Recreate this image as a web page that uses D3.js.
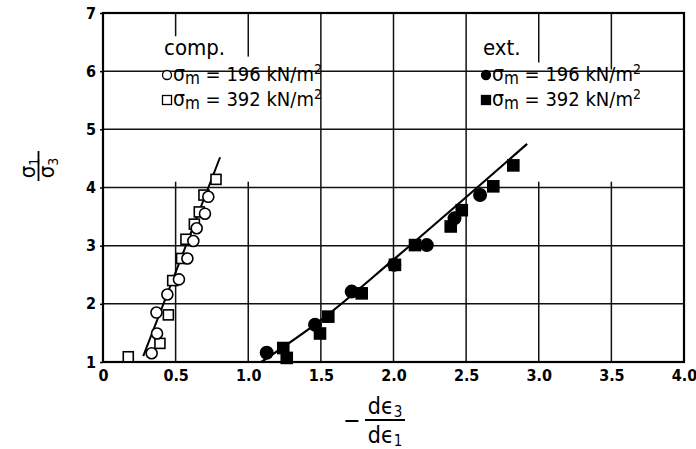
<!DOCTYPE html>
<html><head><meta charset="utf-8">
<script src="https://cdn.jsdelivr.net/npm/d3@7"></script>
<style>body{margin:0;background:#fff} svg{display:block}</style>
</head><body><svg id="c" width="696" height="449"></svg>
<script>
// ---- data ----
const xTicks = [0, 0.5, 1, 1.5, 2, 2.5, 3, 3.5, 4];
const xTickLabels = ["0", "0.5", "1.0", "1.5", "2.0", "2.5", "3.0", "3.5", "4.0"];
const yTicks = [1, 2, 3, 4, 5, 6, 7];
const yTickLabels = ["1", "2", "3", "4", "5", "6", "7"];

const compCircles = [[0.335,1.15],[0.372,1.49],[0.368,1.85],[0.443,2.16],[0.523,2.42],[0.581,2.78],[0.622,3.08],[0.645,3.30],[0.702,3.55],[0.725,3.84]];
const compSquares = [[0.174,1.09],[0.392,1.32],[0.45,1.81],[0.48,2.40],[0.541,2.78],[0.571,3.11],[0.629,3.37],[0.663,3.58],[0.695,3.87],[0.778,4.14]];
const extCircles  = [[1.127,1.16],[1.46,1.64],[1.712,2.21],[2.005,2.67],[2.229,3.01],[2.42,3.47],[2.596,3.87]];
const extSquares  = [[1.241,1.24],[1.265,1.07],[1.494,1.49],[1.551,1.78],[1.781,2.18],[2.01,2.67],[2.148,3.01],[2.394,3.33],[2.47,3.61],[2.687,4.02],[2.825,4.38]];
const compLine = [[0.277,1.10],[0.806,4.52]];
const extLine  = [[1.09,1.0],[1.5,1.72],[2.0,2.76],[2.92,4.75]];

// ---- drawing ----
const svg = d3.select("#c");
const x = d3.scaleLinear().domain([0, 4]).range([103, 684]);
const y = d3.scaleLinear().domain([1, 7]).range([362, 13]);
const FONT = "'DejaVu Sans Condensed', 'DejaVu Sans', sans-serif";

// vertical grid
svg.append("g").selectAll("line").data(xTicks.slice(1, -1)).join("line")
  .attr("x1", d => x(d)).attr("x2", d => x(d)).attr("y1", y(1)).attr("y2", y(7))
  .attr("stroke", "#111").attr("stroke-width", 1.5);
// legend gaps in vertical grid lines
const gaps = [[0.5, 6.6, 4.1], [1.0, 6.25, 4.1], [3.0, 6.15, 4.1], [3.5, 6.03, 4.1]];
svg.append("g").selectAll("rect").data(gaps).join("rect")
  .attr("x", d => x(d[0]) - 3).attr("width", 6)
  .attr("y", d => y(d[1])).attr("height", d => y(d[2]) - y(d[1]))
  .attr("fill", "#fff");
// horizontal grid
svg.append("g").selectAll("line").data(yTicks.slice(1, -1)).join("line")
  .attr("x1", x(0)).attr("x2", x(4)).attr("y1", d => y(d)).attr("y2", d => y(d))
  .attr("stroke", "#111").attr("stroke-width", 1.5);

// frame
svg.append("rect").attr("x", x(0)).attr("y", y(7)).attr("width", x(4) - x(0)).attr("height", y(1) - y(7))
  .attr("fill", "none").attr("stroke", "#000").attr("stroke-width", 2.2);

// axes tick labels
const xAxis = d3.axisBottom(x).tickValues(xTicks).tickFormat((d, i) => xTickLabels[i]).tickSize(0).tickPadding(8);
const gx = svg.append("g").attr("transform", `translate(0,${y(1)})`).call(xAxis);
gx.select(".domain").remove();
gx.selectAll("text").attr("font-family", FONT).attr("font-size", 16).attr("font-weight", "bold").attr("fill", "#000");

const yAxis = d3.axisLeft(y).tickValues(yTicks).tickFormat((d, i) => yTickLabels[i]).tickSize(3).tickPadding(4);
const gy = svg.append("g").attr("transform", `translate(${x(0)},0)`).call(yAxis);
gy.select(".domain").remove();
gy.selectAll("line").attr("stroke", "#000").attr("stroke-width", 1.5);
gy.selectAll("text").attr("font-family", FONT).attr("font-size", 16).attr("font-weight", "bold").attr("fill", "#000");

// lines
const lineGen = d3.line().x(d => x(d[0])).y(d => y(d[1]));
svg.append("path").attr("d", lineGen(compLine)).attr("fill", "none").attr("stroke", "#000").attr("stroke-width", 2);
svg.append("path").attr("d", lineGen.curve(d3.curveMonotoneX)(extLine)).attr("fill", "none").attr("stroke", "#000").attr("stroke-width", 2.2);

// markers
function circles(data, r, filled) {
  svg.append("g").selectAll("circle").data(data).join("circle")
    .attr("cx", d => x(d[0])).attr("cy", d => y(d[1])).attr("r", r)
    .attr("fill", filled ? "#000" : "#fff").attr("stroke", "#000").attr("stroke-width", 1.6);
}
function squares(data, s, filled) {
  svg.append("g").selectAll("rect").data(data).join("rect")
    .attr("x", d => x(d[0]) - s / 2).attr("y", d => y(d[1]) - s / 2).attr("width", s).attr("height", s)
    .attr("fill", filled ? "#000" : "#fff").attr("stroke", "#000").attr("stroke-width", 1.6);
}
squares(compSquares, 10, false);
circles(compCircles, 5.5, false);
squares(extSquares, 11, true);
circles(extCircles, 6.2, true);

// legends
function legendBlock(x0, title, filled, gap) {
  svg.append("text").attr("x", x0 + 2).attr("y", 55).attr("font-family", FONT).attr("font-size", 22).text(title);
  const rows = [["196", "circle", 81], ["392", "square", 106]];
  rows.forEach(([val, shape, by]) => {
    if (shape === "circle") {
      svg.append("circle").attr("cx", x0 + 5).attr("cy", by - 6).attr("r", 4.5)
        .attr("fill", filled ? "#000" : "#fff").attr("stroke", "#000").attr("stroke-width", 1.3);
    } else {
      svg.append("rect").attr("x", x0 + 0.5).attr("y", by - 10.5).attr("width", 9).attr("height", 9)
        .attr("fill", filled ? "#000" : "#fff").attr("stroke", "#000").attr("stroke-width", 1.3);
    }
    const t = svg.append("text").attr("x", x0 + 11).attr("y", by).attr("font-family", FONT).attr("font-size", 20);
    t.append("tspan").attr("font-size", 21).text("σ");
    t.append("tspan").attr("font-size", 17).attr("dy", 3).text("m");
    t.append("tspan").attr("dy", -3).text(" = " + val + gap + "kN/m");
    t.append("tspan").attr("font-size", 14).attr("dy", -7).text("2");
  });
}
legendBlock(162, "comp.", false, " ");
legendBlock(481, "ext.", true, "  ");

// y-axis label (rotated fraction sigma1/sigma3)
const yl = svg.append("g").attr("font-family", FONT).attr("font-size", 22);
const n = yl.append("text").attr("transform", "translate(35,168) rotate(-90)").attr("text-anchor", "middle");
n.append("tspan").text("σ"); n.append("tspan").attr("font-size", 14).attr("dy", 4).text("1");
yl.append("line").attr("x1", 38.5).attr("x2", 38.5).attr("y1", 151).attr("y2", 181).attr("stroke", "#000").attr("stroke-width", 1.8);
const dd = yl.append("text").attr("transform", "translate(54,168) rotate(-90)").attr("text-anchor", "middle");
dd.append("tspan").text("σ"); dd.append("tspan").attr("font-size", 14).attr("dy", 4).text("3");

// x-axis label
const xl = svg.append("g").attr("font-family", FONT).attr("font-size", 23);
xl.append("text").attr("x", 352).attr("y", 428).attr("text-anchor", "middle").text("−");
const xn = xl.append("text").attr("x", 385).attr("y", 414).attr("text-anchor", "middle");
xn.append("tspan").text("dϵ"); xn.append("tspan").attr("font-size", 15).attr("dy", 3).text("3");
xl.append("line").attr("x1", 365).attr("x2", 405).attr("y1", 420).attr("y2", 420).attr("stroke", "#000").attr("stroke-width", 2);
const xd = xl.append("text").attr("x", 385).attr("y", 443).attr("text-anchor", "middle");
xd.append("tspan").text("dϵ"); xd.append("tspan").attr("font-size", 15).attr("dy", 3).text("1");
</script></body></html>
